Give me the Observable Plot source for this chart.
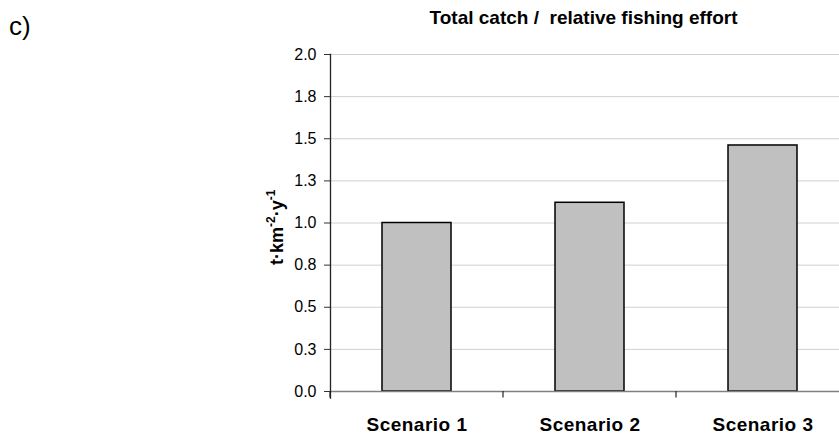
<!DOCTYPE html>
<html>
<head>
<meta charset="utf-8">
<script src="https://cdn.jsdelivr.net/npm/d3@7"></script>
<script src="https://cdn.jsdelivr.net/npm/@observablehq/plot@0.6"></script>
<style>
  html, body { margin: 0; padding: 0; background: #fff; overflow: hidden; }
  #wrap { position: relative; width: 839px; height: 435px; overflow: hidden; }
  #wrap svg { font-family: "Liberation Sans", Arial, sans-serif; overflow: hidden; }
  #wrap svg [aria-label="x-axis tick label"] text { letter-spacing: 0.5px; }
</style>
</head>
<body>
<div id="wrap"></div>
<script>
// ---- data ----
const categories = ["Scenario 1", "Scenario 2", "Scenario 3"];
const values = [1.0, 1.12, 1.46];
const yTicks = [0, 0.25, 0.5, 0.75, 1.0, 1.25, 1.5, 1.75, 2.0];
const yTickLabels = ["0.0", "0.3", "0.5", "0.8", "1.0", "1.3", "1.5", "1.8", "2.0"];
const titleText = "Total catch /  relative fishing effort";
const panelLabel = "c)";

const table = categories.map((c, i) => ({scenario: c, value: values[i]}));

// boundary ticks between categories on the x axis, derived from the band scale
function boundaryTicks(index, scales) {
  const x = scales.x, y = scales.y;
  const bw = typeof x.bandwidth === "function" ? x.bandwidth() : scales.scales.x.bandwidth;
  const step = typeof x.step === "function" ? x.step() : scales.scales.x.step;
  const gap = (step - bw) / 2;
  const edges = [x(categories[0]) - gap, ...categories.map(c => x(c) + bw + gap)];
  const y0 = y(0);
  const g = d3.create("svg:g").attr("stroke", "#222").attr("stroke-width", 1.2);
  edges.forEach(e => g.append("line").attr("x1", e).attr("x2", e).attr("y1", y0).attr("y2", y0 + 6.5));
  return g.node();
}

const chart = Plot.plot({
  width: 839,
  height: 435,
  marginLeft: 330,
  marginRight: -10,
  marginTop: 54,
  marginBottom: 44,
  style: {fontFamily: "Liberation Sans, Arial, sans-serif", background: "#fff", color: "#000"},
  x: {type: "band", domain: categories, paddingInner: 0.6, paddingOuter: 0.3, axis: null},
  y: {domain: [0, 2], axis: null},
  marks: [
    Plot.gridY(yTicks, {stroke: "#d0d0d0", strokeOpacity: 1, strokeWidth: 1}),
    Plot.barY(table, {x: "scenario", y: "value", fill: "#c0c0c0", stroke: "#000", strokeWidth: 1.5}),
    Plot.ruleY([0], {stroke: "#808080", strokeWidth: 1.6}),
    Plot.axisY({
      ticks: yTicks,
      tickFormat: d => yTickLabels[yTicks.indexOf(d)],
      tickSize: 6,
      tickPadding: 8,
      fontSize: 16,
      stroke: "#333",
      label: null
    }),
    Plot.axisX({
      tickSize: 0,
      tickPadding: 25.5,
      fontSize: 19,
      fontWeight: "bold",
      label: null
    }),
    Plot.frame({anchor: "left", stroke: "#222", strokeWidth: 1.3, insetBottom: -6.5}),
    boundaryTicks
  ]
});

document.getElementById("wrap").appendChild(chart);

// ---- texts: title, panel letter, y label ----
const svg = d3.select(chart.tagName.toLowerCase() === "svg" ? chart : chart.querySelector("svg"));
svg.append("text")
  .attr("x", 583.5).attr("y", 24)
  .attr("text-anchor", "middle")
  .attr("font-size", 19).attr("font-weight", "bold")
  .attr("fill", "#000")
  .style("white-space", "pre")
  .text(titleText);

svg.append("text")
  .attr("x", 9).attr("y", 35)
  .attr("text-anchor", "start")
  .attr("font-size", 26)
  .attr("fill", "#000")
  .text(panelLabel);

const yl = svg.append("text")
  .attr("transform", "translate(283,265) rotate(-90)")
  .attr("text-anchor", "start")
  .attr("font-size", 18).attr("font-weight", "bold")
  .attr("fill", "#000");
yl.append("tspan").text("t·km");
yl.append("tspan").attr("font-size", 12).attr("dy", -8).text("-2");
yl.append("tspan").attr("dy", 8).text("·y");
yl.append("tspan").attr("font-size", 12).attr("dy", -8).text("-1");
</script>
</body>
</html>
